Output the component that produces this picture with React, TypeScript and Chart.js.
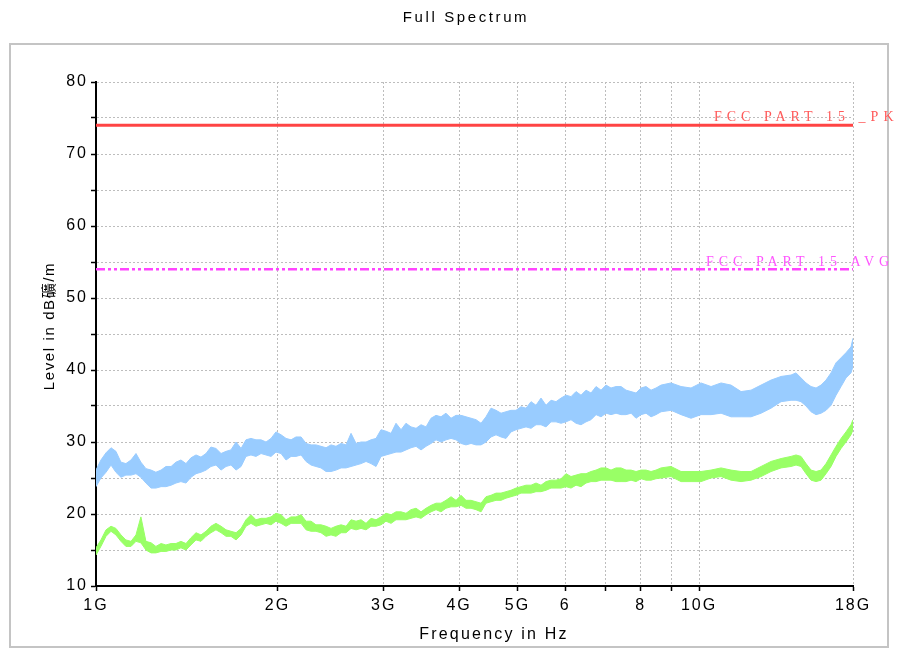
import React, { useEffect, useRef } from "react";
import { Chart, registerables } from "chart.js";

Chart.register(...registerables);

// Frequencies in MHz
const freqMHz = [
  1000, 1019, 1039, 1059, 1079, 1100, 1121, 1143, 1165, 1187, 1210, 1234, 1257, 1282, 1306, 1332, 1357, 1383, 1410, 1437,
  1465, 1493, 1522, 1551, 1581, 1612, 1643, 1674, 1707, 1740, 1773, 1807, 1842, 1878, 1914, 1951, 1988, 2027, 2066, 2106,
  2146, 2188, 2230, 2273, 2316, 2361, 2407, 2453, 2500, 2549, 2598, 2648, 2699, 2751, 2804, 2858, 2913, 2969, 3026, 3085,
  3144, 3205, 3266, 3329, 3394, 3459, 3526, 3594, 3663, 3733, 3805, 3879, 3954, 4030, 4107, 4187, 4267, 4350,
  4433, 4519, 4606, 4695, 4785, 4877, 4971, 5067, 5165, 5265, 5366, 5469, 5575, 5682, 5792, 5904, 6017, 6133, 6252, 6372,
  6495, 6620, 6748, 6878, 7010, 7145, 7283, 7424, 7567, 7713, 7861, 8013, 8167, 8325, 8485, 8649, 8985,
  9335, 9698, 10076, 10468, 10876, 11299, 11739, 12195, 12670, 13163, 13676, 14208, 14481, 14760, 15045, 15335, 15631,
  15932, 16239, 16552, 16871, 17197, 17525, 17860, 18000,
];

// Peak trace (light blue) envelope
const peakUpper = [
  26.1, 27.5, 28.5, 29.2, 28.7, 27.2, 27.0, 27.5, 28.4, 27.2, 26.3, 26.1, 25.8, 26.1, 26.6, 26.6, 27.2, 27.5, 27.0, 27.8,
  28.2, 27.9, 28.4, 29.3, 29.1, 28.4, 28.7, 28.9, 30.0, 29.1, 30.3, 30.5, 30.3, 30.3, 30.0, 30.5, 31.4, 31.0, 30.5, 30.3,
  30.7, 30.7, 29.8, 29.6, 29.6, 29.4, 29.2, 29.6, 29.4, 29.8, 29.6, 31.2, 29.8, 30.0, 30.0, 30.3, 30.5, 31.7, 31.5, 31.2,
  32.6, 31.7, 32.6, 32.1, 31.9, 32.4, 32.1, 33.3, 33.7, 33.5, 34.0, 33.3, 33.7, 33.7, 33.5, 33.3, 33.1, 32.6,
  33.5, 34.7, 34.4, 34.0, 34.2, 34.4, 34.4, 34.9, 34.7, 35.6, 35.1, 36.1, 35.1, 35.8, 35.6, 36.1, 36.5, 36.3, 37.0, 36.5,
  37.2, 36.8, 37.7, 37.2, 37.9, 37.5, 37.7, 37.7, 37.2, 37.0, 36.8, 37.5, 37.7, 37.2, 37.5, 37.9, 38.2,
  37.7, 37.5, 38.2, 37.7, 38.2, 37.9, 37.0, 37.2, 37.9, 38.6, 39.1, 39.3, 39.6, 38.9, 38.2, 37.7, 37.5,
  37.9, 38.6, 39.6, 41.0, 41.7, 42.4, 43.2, 44.4,
];
const peakLower = [
  23.8, 25.0, 25.8, 26.8, 25.8, 25.1, 25.4, 25.4, 25.6, 25.1, 24.3, 23.6, 23.6, 23.8, 23.8, 24.0, 24.3, 24.5, 24.3, 25.1,
  25.6, 25.8, 26.1, 26.6, 26.8, 26.1, 26.6, 26.8, 26.1, 26.6, 28.0, 28.2, 28.0, 28.4, 28.2, 28.0, 28.6, 28.4, 27.5, 28.0,
  28.0, 28.2, 27.3, 26.8, 26.6, 26.4, 25.9, 25.9, 26.1, 26.4, 26.4, 26.6, 26.8, 27.0, 27.3, 27.0, 26.6, 28.0, 28.2, 28.4,
  28.6, 28.6, 28.9, 29.2, 29.4, 28.9, 29.4, 29.8, 30.3, 30.0, 30.3, 30.5, 30.3, 29.8, 29.6, 29.8, 29.6, 29.6,
  30.0, 30.7, 31.0, 30.7, 30.5, 31.4, 31.7, 31.9, 32.1, 31.9, 32.4, 32.4, 32.1, 32.8, 32.8, 32.6, 32.8, 33.1, 32.6, 32.4,
  32.8, 33.1, 33.8, 33.5, 34.0, 33.8, 34.0, 33.8, 33.8, 34.0, 33.3, 33.8, 34.0, 33.5, 33.8, 34.2, 34.4,
  33.8, 33.3, 33.8, 33.8, 34.0, 33.5, 33.5, 33.5, 34.0, 34.7, 35.6, 35.8, 35.8, 35.6, 35.0, 34.2, 33.8,
  34.0, 34.4, 35.1, 36.5, 37.7, 38.9, 39.6, 40.5,
];

// Average trace (light green) envelope
const avgUpper = [
  15.3, 16.4, 17.8, 18.3, 18.0, 17.1, 16.4, 16.2, 17.1, 19.6, 16.2, 16.0, 15.5, 15.9, 15.7, 15.9, 15.9, 16.2, 15.9, 16.7,
  17.4, 17.1, 17.6, 18.3, 18.7, 18.3, 17.8, 17.6, 17.4, 18.0, 19.2, 19.9, 19.2, 19.4, 19.4, 19.6, 20.1, 19.9, 19.2, 19.6,
  19.6, 19.9, 19.0, 19.0, 18.5, 18.5, 18.3, 18.0, 18.3, 18.5, 18.3, 19.2, 19.0, 19.2, 18.7, 19.4, 19.2, 19.6, 20.1, 19.9,
  20.3, 20.3, 20.1, 20.6, 20.8, 20.3, 20.8, 21.2, 21.5, 21.5, 21.9, 22.4, 21.9, 22.6, 21.9, 21.9, 21.7, 21.5,
  22.4, 22.6, 22.9, 22.9, 23.1, 23.3, 23.6, 23.8, 24.0, 24.0, 24.3, 24.0, 24.5, 24.7, 24.7, 24.9, 25.6, 25.2, 25.4, 25.6,
  25.6, 25.9, 26.1, 26.4, 26.4, 26.1, 26.4, 26.4, 26.1, 26.1, 25.9, 26.1, 26.1, 25.9, 26.1, 26.4, 26.6,
  25.9, 25.9, 25.9, 26.1, 26.4, 26.1, 25.9, 25.9, 26.6, 27.3, 27.7, 28.0, 28.2, 28.0, 27.0, 26.1, 25.9,
  26.1, 27.0, 28.2, 29.4, 30.5, 31.4, 32.4, 33.1,
];
const avgLower = [
  14.3, 15.5, 16.9, 17.6, 17.1, 16.2, 15.5, 15.5, 16.2, 16.0, 15.0, 14.6, 14.6, 14.8, 14.8, 15.0, 15.0, 15.3, 15.0, 15.7,
  16.4, 16.2, 16.9, 17.4, 17.8, 17.4, 16.9, 16.9, 16.4, 17.1, 18.3, 18.7, 18.3, 18.5, 18.7, 18.5, 19.0, 18.7, 18.3, 18.7,
  18.7, 18.7, 17.8, 17.6, 17.6, 17.4, 16.9, 17.1, 16.9, 17.4, 17.4, 18.0, 17.8, 18.0, 17.8, 18.3, 18.3, 18.5, 19.0, 18.7,
  19.2, 19.2, 19.2, 19.4, 19.6, 19.4, 19.9, 20.3, 20.6, 20.3, 20.8, 21.0, 21.0, 21.2, 20.8, 20.8, 20.6, 20.3,
  21.5, 21.7, 21.9, 21.9, 22.2, 22.4, 22.6, 22.9, 22.9, 22.9, 23.1, 23.1, 23.3, 23.6, 23.6, 23.6, 23.8, 23.6, 24.0, 23.8,
  24.3, 24.5, 24.5, 24.7, 24.7, 24.7, 24.5, 24.5, 24.5, 24.7, 24.5, 24.9, 24.7, 24.7, 24.9, 25.0, 25.2,
  24.5, 24.5, 24.5, 25.0, 25.2, 24.7, 24.5, 24.7, 25.2, 25.9, 26.4, 26.6, 26.8, 26.6, 25.6, 24.7, 24.5,
  24.7, 25.6, 26.6, 28.0, 29.1, 30.0, 31.0, 31.7,
];

// Limit lines
const limitFreq = [1000, 18000];
const limitPK = [74, 74];
const limitAVG = [54, 54];
const limitNames = ["FCC PART 15 _PK", "FCC PART 15 AVG"];

// Axes
const xTickValues = [1000, 2000, 3000, 4000, 5000, 6000, 7000, 8000, 9000, 10000, 18000];
const xTickLabels = ["1G", "2G", "3G", "4G", "5G", "6", "", "8", "", "10G", "18G"];
const yMin = 10;
const yMax = 80;
const yStep = 5;

const chartTitle = "Full Spectrum";
const xTitle = "Frequency in Hz";
const yTitle = "Level in dB礦/m";

const SANS = '"Liberation Sans", Arial, "Noto Sans CJK TC", "Noto Sans CJK SC", sans-serif';
const SERIF = '"Liberation Serif", "DejaVu Serif", serif';

export default function App() {
  const ref = useRef<HTMLCanvasElement>(null);

  useEffect(() => {
    document.body.style.margin = "0";
    const canvas = ref.current;
    if (!canvas) return;
    const toPts = (xs: number[], ys: number[]) => xs.map((f, i) => ({ x: f, y: ys[i] }));

    const stylePlugin = {
      id: "stylePlugin",
      beforeUpdate(c: any) {
        c.ctx.letterSpacing = "2px";
      },
      beforeDraw(c: any) {
        const ctx = c.ctx;
        ctx.letterSpacing = "2px";
        ctx.save();
        ctx.fillStyle = "#ffffff";
        ctx.fillRect(0, 0, c.width, c.height);
        ctx.strokeStyle = "#c4c4c4";
        ctx.lineWidth = 2;
        ctx.strokeRect(10, 44, 878, 603);
        ctx.restore();
      },
      afterDraw(c: any) {
        const ctx = c.ctx;
        const xs = c.scales.x;
        const ys = c.scales.y;
        ctx.save();
        // titles
        ctx.fillStyle = "#000";
        ctx.textBaseline = "middle";
        ctx.textAlign = "center";
        ctx.font = "15px " + SANS;
        ctx.letterSpacing = "2.6px";
        ctx.fillText(chartTitle, 466, 18);
        ctx.font = "16px " + SANS;
        ctx.letterSpacing = "2.2px";
        ctx.fillText(xTitle, 494, 635);
        ctx.save();
        ctx.translate(50, 326);
        ctx.rotate(-Math.PI / 2);
        ctx.font = "15px " + SANS;
        ctx.letterSpacing = "1.6px";
        ctx.fillText(yTitle, 0, 0);
        ctx.restore();
        // limit labels
        ctx.font = "14px " + SERIF;
        ctx.letterSpacing = "5px";
        ctx.textAlign = "left";
        ctx.textBaseline = "alphabetic";
        ctx.fillStyle = "#ff5a5a";
        ctx.fillText(limitNames[0], xs.right - 139, ys.getPixelForValue(limitPK[1]) - 4);
        ctx.fillStyle = "#ff55ff";
        ctx.fillText(limitNames[1], xs.right - 147, ys.getPixelForValue(limitAVG[1]) - 3);
        ctx.restore();
      },
    };

    const chart = new Chart(canvas, {
      type: "line",
      data: {
        datasets: [
          {
            label: "Peak upper",
            data: toPts(freqMHz, peakUpper),
            borderColor: "#99ccff",
            backgroundColor: "#99ccff",
            borderWidth: 1,
            pointRadius: 0,
            fill: "+1",
          },
          {
            label: "Peak lower",
            data: toPts(freqMHz, peakLower),
            borderColor: "#99ccff",
            borderWidth: 1,
            pointRadius: 0,
            fill: false,
          },
          {
            label: "Avg upper",
            data: toPts(freqMHz, avgUpper),
            borderColor: "#99ff66",
            backgroundColor: "#99ff66",
            borderWidth: 1,
            pointRadius: 0,
            fill: "+1",
          },
          {
            label: "Avg lower",
            data: toPts(freqMHz, avgLower),
            borderColor: "#99ff66",
            borderWidth: 1,
            pointRadius: 0,
            fill: false,
          },
          {
            label: limitNames[0],
            data: toPts(limitFreq, limitPK),
            borderColor: "#ff4444",
            borderWidth: 3,
            pointRadius: 0,
            fill: false,
          },
          {
            label: limitNames[1],
            data: toPts(limitFreq, limitAVG),
            borderColor: "#ff44ff",
            borderWidth: 2.5,
            borderDash: [9, 3, 3, 3, 3, 3],
            pointRadius: 0,
            fill: false,
          },
        ],
      },
      options: {
        animation: false,
        responsive: false,
        devicePixelRatio: 1,
        layout: { padding: { left: 10, right: 46, top: 82, bottom: 4 } },
        plugins: {
          legend: { display: false },
          tooltip: { enabled: false },
          title: { display: false },
        },
        scales: {
          x: {
            type: "logarithmic",
            min: 1000,
            max: 18000,
            afterBuildTicks: (s: any) => {
              s.ticks = xTickValues.map((v) => ({ value: v }));
            },
            afterFit: (s: any) => {
              s.height = 61;
            },
            ticks: {
              autoSkip: false,
              maxRotation: 0,
              color: "#000",
              padding: 5,
              font: { family: SANS, size: 16 },
              callback: (_v: any, i: number) => xTickLabels[i],
            },
            grid: {
              color: "#bdbdbd",
              lineWidth: 1,
              tickColor: "#000",
              tickWidth: 1.5,
              tickLength: 5,
            },
            border: { display: true, color: "#000", width: 2, dash: [2, 2] },
            title: { display: false },
          },
          y: {
            min: yMin,
            max: yMax,
            afterFit: (s: any) => {
              s.width = 86;
            },
            ticks: {
              stepSize: yStep,
              autoSkip: false,
              color: "#000",
              padding: 3,
              font: { family: SANS, size: 16 },
              callback: (v: any) => (Number(v) % 10 === 0 ? String(v) : ""),
            },
            grid: {
              color: "#bdbdbd",
              lineWidth: 1,
              tickColor: "#000",
              tickWidth: 1.5,
              tickLength: 5,
            },
            border: { display: true, color: "#000", width: 2, dash: [2, 2] },
            title: { display: false },
          },
        },
      },
      plugins: [stylePlugin],
    } as any);

    return () => chart.destroy();
  }, []);

  return (
    <div style={{ width: 899, height: 651, overflow: "hidden" }}>
      <canvas ref={ref} width={899} height={651} style={{ display: "block" }} />
    </div>
  );
}
